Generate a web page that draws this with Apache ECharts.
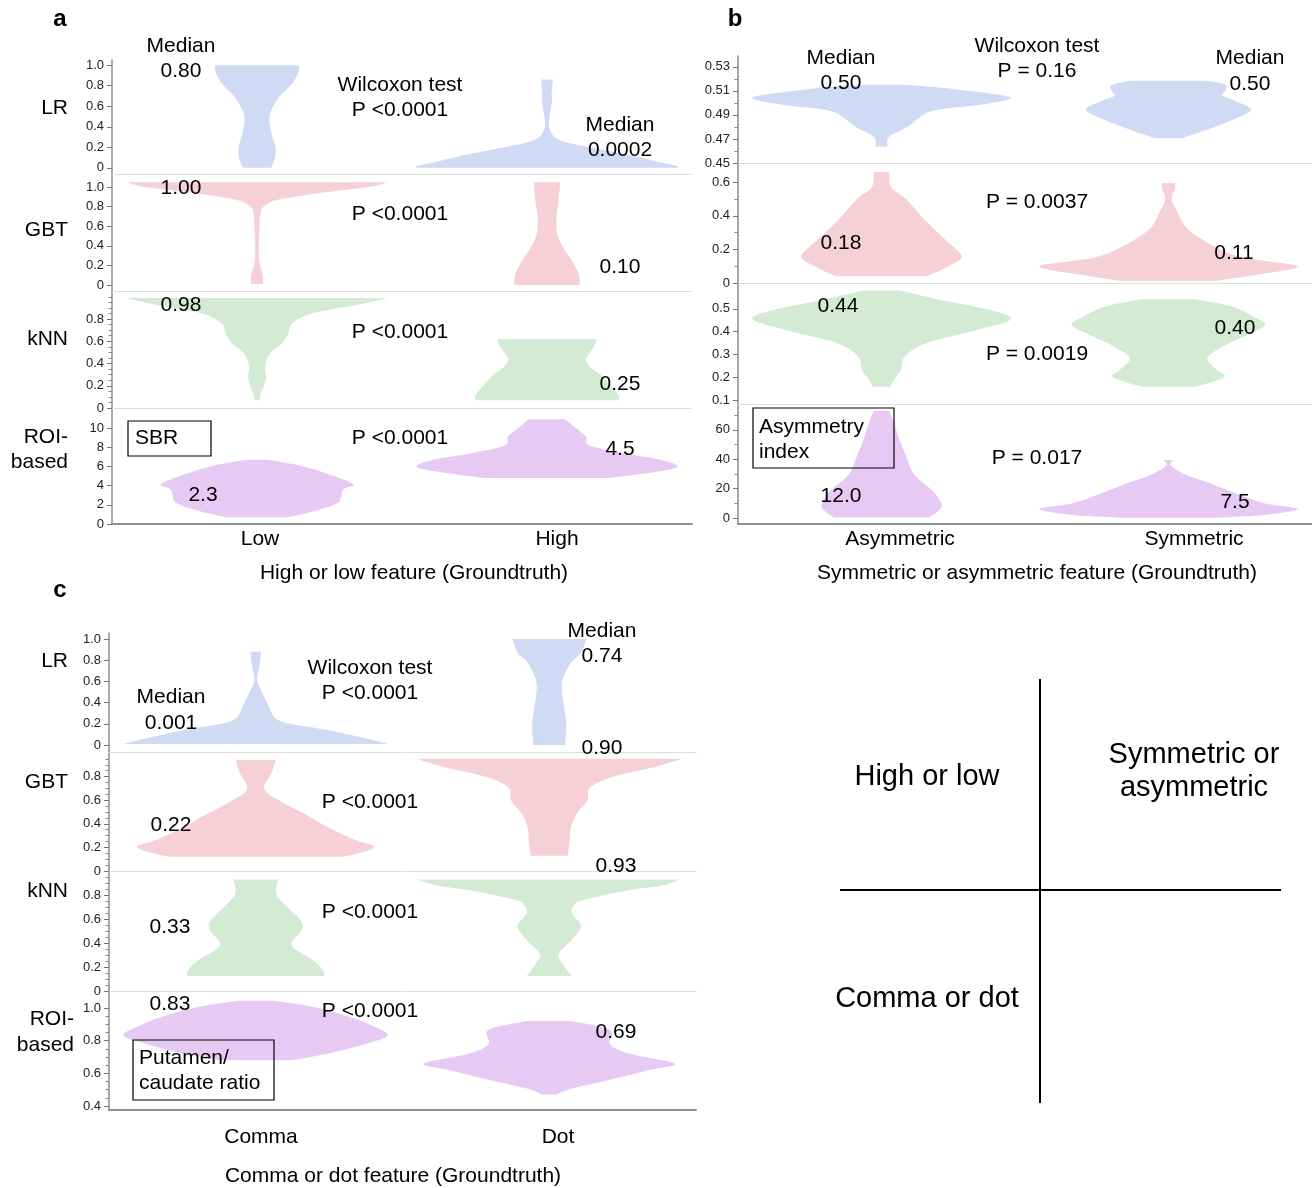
<!DOCTYPE html>
<html>
<head>
<meta charset="utf-8">
<script src="https://cdn.jsdelivr.net/npm/echarts@6/dist/echarts.min.js"></script>
<style>
  html, body { margin: 0; padding: 0; background: #fff; }
  #chart { width: 1312px; height: 1188px; }
</style>
</head>
<body>
<div id="chart"></div>
<script>
// ---------------- data ----------------
const groupsA = ['Low', 'High'];
const groupsB = ['Asymmetric', 'Symmetric'];
const groupsC = ['Comma', 'Dot'];
const modelNames = ['LR', 'GBT', 'kNN', 'ROI-based'];

// Violin outlines: [value, relative density] from the top of each violin down.
// Each array holds [first group, second group].
const violinA_LR = [
  [[1.0,0.32],[0.94,0.32],[0.82,0.27],[0.69,0.17],[0.56,0.11],[0.47,0.095],[0.34,0.11],[0.21,0.14],[0.11,0.14],[0,0.11]],
  [[0.86,0.045],[0.78,0.04],[0.72,0.035],[0.66,0.04],[0.56,0.028],[0.45,0.015],[0.38,0.02],[0.31,0.05],[0.26,0.12],[0.21,0.29],[0.13,0.61],[0.06,0.85],[0.02,0.99],[0,1.0]]
];
const violinA_GBT = [
  [[1.05,1.0],[1.0,0.85],[0.93,0.43],[0.87,0.16],[0.8,0.05],[0.72,0.025],[0.6,0.02],[0.45,0.014],[0.3,0.014],[0.22,0.02],[0.15,0.035],[0.07,0.046],[0.01,0.046]],
  [[1.05,0.1],[0.87,0.09],[0.7,0.073],[0.53,0.077],[0.39,0.12],[0.25,0.19],[0.15,0.23],[0.07,0.25],[0,0.25]]
];
const violinA_kNN = [
  [[0.99,1.0],[0.93,0.78],[0.85,0.42],[0.76,0.27],[0.67,0.24],[0.58,0.19],[0.49,0.1],[0.37,0.06],[0.28,0.07],[0.19,0.05],[0.12,0.026],[0.07,0.02]],
  [[0.62,0.38],[0.55,0.36],[0.47,0.31],[0.42,0.3],[0.36,0.34],[0.3,0.41],[0.25,0.45],[0.16,0.52],[0.11,0.55],[0.07,0.55]]
];
const violinA_ROI = [
  [[6.7,0.08],[6.0,0.36],[4.9,0.61],[4.1,0.74],[3.6,0.66],[2.2,0.62],[1.3,0.43],[0.7,0.24]],
  [[10.9,0.14],[10.1,0.21],[9.1,0.3],[8.2,0.32],[7.4,0.57],[6.7,0.87],[6.0,1.0],[5.45,0.84],[4.8,0.48]]
];

const violinB_LR = [
  [[0.515,0.19],[0.511,0.6],[0.5045,1.0],[0.498,0.74],[0.4955,0.52],[0.4915,0.35],[0.48,0.2],[0.472,0.06],[0.4635,0.046]],
  [[0.5185,0.3],[0.515,0.44],[0.51,0.44],[0.506,0.42],[0.5015,0.52],[0.4945,0.64],[0.487,0.52],[0.479,0.33],[0.4705,0.1]]
];
const violinB_GBT = [
  [[0.66,0.06],[0.57,0.075],[0.5,0.19],[0.38,0.33],[0.26,0.49],[0.16,0.62],[0.1,0.52],[0.04,0.35]],
  [[0.595,0.05],[0.56,0.05],[0.5,0.025],[0.42,0.07],[0.32,0.15],[0.22,0.35],[0.15,0.58],[0.1,1.0],[0.05,0.69],[0.014,0.38]]
];
const violinB_kNN = [
  [[0.58,0.14],[0.54,0.45],[0.495,0.84],[0.454,1.0],[0.407,0.74],[0.35,0.35],[0.29,0.18],[0.23,0.15],[0.195,0.105],[0.158,0.07]],
  [[0.542,0.21],[0.51,0.49],[0.465,0.66],[0.43,0.75],[0.39,0.63],[0.334,0.42],[0.283,0.3],[0.23,0.38],[0.2,0.43],[0.158,0.21]]
];
const violinB_ROI = [
  [[73,0.06],[64,0.1],[53,0.14],[42,0.19],[30,0.25],[19,0.39],[12,0.45],[6.6,0.46],[0.3,0.37]],
  [[39.5,0.04],[36,0.015],[30.5,0.11],[23.6,0.32],[16.8,0.52],[10,0.74],[6.1,1.0],[2,0.74],[0.2,0.38]]
];

const violinC_LR = [
  [[0.88,0.04],[0.8,0.035],[0.74,0.027],[0.61,0.011],[0.49,0.05],[0.36,0.1],[0.27,0.135],[0.22,0.2],[0.19,0.3],[0.15,0.5],[0.1,0.7],[0.05,0.88],[0.01,1.0]],
  [[1.0,0.28],[0.87,0.24],[0.77,0.16],[0.61,0.1],[0.46,0.1],[0.3,0.12],[0.17,0.13],[0,0.12]]
];
const violinC_GBT = [
  [[0.94,0.15],[0.83,0.12],[0.69,0.066],[0.57,0.22],[0.49,0.36],[0.375,0.54],[0.26,0.76],[0.205,0.9],[0.15,0.78],[0.12,0.65]],
  [[0.95,1.0],[0.88,0.8],[0.8,0.49],[0.71,0.31],[0.6,0.29],[0.49,0.21],[0.375,0.165],[0.26,0.155],[0.13,0.14]]
];
const violinC_kNN = [
  [[0.93,0.17],[0.81,0.155],[0.7,0.24],[0.59,0.34],[0.51,0.35],[0.4,0.27],[0.34,0.31],[0.26,0.43],[0.175,0.51],[0.125,0.52]],
  [[0.93,1.0],[0.88,0.85],[0.84,0.6],[0.77,0.3],[0.73,0.2],[0.65,0.17],[0.54,0.24],[0.425,0.17],[0.31,0.07],[0.23,0.1],[0.125,0.17]]
];
const violinC_ROI = [
  [[1.045,0.14],[1.008,0.43],[0.947,0.71],[0.885,0.9],[0.83,1.0],[0.78,0.83],[0.72,0.54],[0.68,0.27]],
  [[0.92,0.17],[0.865,0.46],[0.78,0.46],[0.72,0.61],[0.66,0.95],[0.62,0.76],[0.56,0.46],[0.5,0.14],[0.47,0.06]]
];

// Medians per row, [first group, second group]
const mediansA = [['0.80','0.0002'],['1.00','0.10'],['0.98','0.25'],['2.3','4.5']];
const mediansB = [['0.50','0.50'],['0.18','0.11'],['0.44','0.40'],['12.0','7.5']];
const mediansC = [['0.001','0.74'],['0.22','0.90'],['0.33','0.93'],['0.83','0.69']];

// Wilcoxon test results per row
const pValuesA = ['P <0.0001','P <0.0001','P <0.0001','P <0.0001'];
const pValuesB = ['P = 0.16','P = 0.0037','P = 0.0019','P = 0.017'];
const pValuesC = ['P <0.0001','P <0.0001','P <0.0001','P <0.0001'];

// Tick labels per row
const ticksA = [[0,0.2,0.4,0.6,0.8,1.0],[0,0.2,0.4,0.6,0.8,1.0],[0,0.2,0.4,0.6,0.8],[0,2,4,6,8,10]];
const ticksB = [[0.45,0.47,0.49,0.51,0.53],[0,0.2,0.4,0.6],[0.1,0.2,0.3,0.4,0.5],[0,20,40,60]];
const ticksC = [[0,0.2,0.4,0.6,0.8,1.0],[0,0.2,0.4,0.6,0.8],[0,0.2,0.4,0.6,0.8],[0.4,0.6,0.8,1.0]];
const minorTicksA = [[],[],[0.05,0.1,0.15,0.25,0.3,0.35,0.45,0.5,0.55,0.65,0.7,0.75,0.85,0.9,0.95,1.0],[]];
const minorTicksB = [[0.46,0.48,0.50,0.52,0.54],[0.1,0.3,0.5],[],[10,30,50,70]];
const minorTicksC = [[],
  [0.05,0.1,0.15,0.25,0.3,0.35,0.45,0.5,0.55,0.65,0.7,0.75,0.85,0.9,0.95],
  [0.05,0.1,0.15,0.25,0.3,0.35,0.45,0.5,0.55,0.65,0.7,0.75,0.85,0.9,0.95],
  [0.45,0.5,0.55,0.65,0.7,0.75,0.85,0.9,0.95]];

const axisTitles = ['High or low feature (Groundtruth)', 'Symmetric or asymmetric feature (Groundtruth)', 'Comma or dot feature (Groundtruth)'];
const measureBoxes = [['SBR'], ['Asymmetry', 'index'], ['Putamen/', 'caudate ratio']];
const quadrantLabels = [['High or low'], ['Symmetric or', 'asymmetric'], ['Comma or dot']];

// ---------------- layout ----------------
const modelColors = ['#cfdbf5', '#f5d0d6', '#d3ead3', '#e7caf4'];
const FONT = '"Liberation Sans", Arial, Helvetica, sans-serif';
const HALF = 0.45;   // half-width of a density-1 violin, in category units

const panels = [
  { left: 112, width: 580,
    rows: [[60,174],[174,291],[291,408],[408,524]],
    ranges: [[-0.06,1.05],[-0.061,1.133],[0,1.052],[0,12.08]],
    decimals: [1,1,1,0],
    ticks: ticksA, minor: minorTicksA,
    violins: [violinA_LR, violinA_GBT, violinA_kNN, violinA_ROI] },
  { left: 738, width: 574,
    rows: [[56,163],[163,283],[283,404],[404,524]],
    ranges: [[0.45,0.539],[0,0.714],[0.0825,0.613],[-4.08,77.55]],
    decimals: [2,1,1,0],
    ticks: ticksB, minor: minorTicksB,
    violins: [violinB_LR, violinB_GBT, violinB_kNN, violinB_ROI] },
  { left: 109, width: 587,
    rows: [[633,752],[752,871],[871,991],[991,1110]],
    ranges: [[-0.066,1.057],[0,1.008],[0,1.0],[0.3755,1.104]],
    decimals: [1,1,1,1],
    ticks: ticksC, minor: minorTicksC,
    violins: [violinC_LR, violinC_GBT, violinC_kNN, violinC_ROI] }
];

// smooth edge through every outline point (Catmull-Rom as cubic Bezier), caps stay straight
function edgePath(pts, start) {
  const f = (n) => n.toFixed(2);
  let d = (start ? 'M' : 'L') + f(pts[0][0]) + ' ' + f(pts[0][1]);
  for (let i = 0; i < pts.length - 1; i++) {
    const p0 = pts[Math.max(i - 1, 0)], p1 = pts[i], p2 = pts[i + 1], p3 = pts[Math.min(i + 2, pts.length - 1)];
    const c1 = [p1[0] + (p2[0] - p0[0]) / 6, p1[1] + (p2[1] - p0[1]) / 6];
    const c2 = [p2[0] - (p3[0] - p1[0]) / 6, p2[1] - (p3[1] - p1[1]) / 6];
    d += ' C' + f(c1[0]) + ' ' + f(c1[1]) + ' ' + f(c2[0]) + ' ' + f(c2[1]) + ' ' + f(p2[0]) + ' ' + f(p2[1]);
  }
  return d;
}

const grids = [], xAxes = [], yAxes = [], series = [];
panels.forEach((p) => {
  p.rows.forEach((r, ri) => {
    const g = grids.length;
    const isLast = ri === p.rows.length - 1;
    grids.push({ left: p.left, top: r[0], width: p.width, height: r[1] - r[0], containLabel: false });
    xAxes.push({
      gridIndex: g, type: 'value', min: -0.5, max: 1.5,
      axisLine: { show: true, onZero: false, lineStyle: { color: isLast ? '#909090' : '#dedede', width: isLast ? 2 : 1 } },
      axisTick: { show: false }, axisLabel: { show: false }, splitLine: { show: false }
    });
    const dec = p.decimals[ri];
    const yMain = yAxes.length;
    yAxes.push({
      gridIndex: g, type: 'value', position: 'left', min: p.ranges[ri][0], max: p.ranges[ri][1],
      axisLine: { show: true, onZero: false, lineStyle: { color: '#8c8c8c', width: 1.5 } },
      axisTick: { show: true, length: 5, customValues: p.ticks[ri], lineStyle: { color: '#777', width: 1 } },
      axisLabel: {
        show: true, customValues: p.ticks[ri], margin: 8,
        fontFamily: FONT, fontSize: 13, color: '#222',
        formatter: (v) => (Math.abs(v) < 1e-9 ? '0' : Number(v).toFixed(dec))
      },
      splitLine: { show: false }
    });
    yAxes.push({
      gridIndex: g, type: 'value', position: 'left', offset: 0, min: p.ranges[ri][0], max: p.ranges[ri][1],
      axisLine: { show: false, onZero: false },
      axisTick: { show: p.minor[ri].length > 0, length: 3.5, customValues: p.minor[ri].length ? p.minor[ri] : [p.ranges[ri][0]], lineStyle: { color: '#888', width: 1 } },
      axisLabel: { show: false }, splitLine: { show: false }
    });
    const outlines = p.violins[ri];
    const color = modelColors[ri];
    series.push({
      type: 'custom', xAxisIndex: g, yAxisIndex: yMain, silent: true, z: 2,
      data: outlines.map((o, i) => [i, o[0][0]]),
      renderItem: (params, api) => {
        const c = api.value(0);
        const o = outlines[params.dataIndex];
        const right = o.map(([v, d]) => api.coord([c + d * HALF, v]));
        const left = o.map(([v, d]) => api.coord([c - d * HALF, v])).reverse();
        const path = edgePath(right, true) + ' ' + edgePath(left, false) + ' Z';
        return { type: 'path', shape: { pathData: path }, style: { fill: color, stroke: null } };
      }
    });
  });
});

// ---------------- text ----------------
const graphics = [];
function txt(t, x, y, opt) {
  opt = opt || {};
  graphics.push({
    type: 'text', x: x, y: y, z: 10, silent: true,
    style: {
      text: t, fill: opt.color || '#000',
      font: (opt.weight || 'normal') + ' ' + (opt.size || 21) + 'px ' + FONT,
      align: opt.align || 'center', verticalAlign: 'middle'
    }
  });
}
function box(x, y, w, h) {
  graphics.push({ type: 'rect', z: 9, silent: true, shape: { x: x, y: y, width: w, height: h },
    style: { fill: null, stroke: '#000', lineWidth: 1.2 } });
}
function line(x1, y1, x2, y2) {
  graphics.push({ type: 'line', z: 9, silent: true, shape: { x1: x1, y1: y1, x2: x2, y2: y2 },
    style: { stroke: '#000', lineWidth: 2 } });
}

// panel letters
txt('a', 60, 19, { weight: 'bold', size: 24 });
txt('b', 735, 19, { weight: 'bold', size: 24 });
txt('c', 60, 590, { weight: 'bold', size: 24 });

// model names on the left of panels a and c
[[108, 230, 339], [661, 782, 891]].forEach((ys) => {
  txt(modelNames[0], 68, ys[0], { align: 'right' });
  txt(modelNames[1], 68, ys[1], { align: 'right' });
  txt(modelNames[2], 68, ys[2], { align: 'right' });
});
const roiParts = modelNames[3].split('-');
txt(roiParts[0] + '-', 68, 437, { align: 'right' });
txt(roiParts[1], 68, 462, { align: 'right' });
txt(roiParts[0] + '-', 74, 1019, { align: 'right' });
txt(roiParts[1], 74, 1045, { align: 'right' });

// medians and test results
const medianPos = [
  [[[181,71],[620,150]], [[181,188],[620,267]], [[181,305],[620,384]], [[203,495],[620,449]]],
  [[[841,83],[1250,84]], [[841,243],[1234,253]], [[838,306],[1235,328]], [[841,496],[1235,502]]],
  [[[171,723],[602,656]], [[171,825],[602,748]], [[170,927],[616,866]], [[170,1004],[616,1032]]]
];
const pPos = [
  [[400,110],[400,214],[400,332],[400,438]],
  [[1037,71],[1037,202],[1037,354],[1037,458]],
  [[370,693],[370,802],[370,912],[370,1011]]
];
const headerPos = [
  { med: [[181,46],[620,125]], test: [400,85] },
  { med: [[841,58],[1250,58]], test: [1037,46] },
  { med: [[171,697],[602,631]], test: [370,668] }
];
[mediansA, mediansB, mediansC].forEach((meds, pi) => {
  meds.forEach((pair, ri) => {
    txt(pair[0], medianPos[pi][ri][0][0], medianPos[pi][ri][0][1]);
    txt(pair[1], medianPos[pi][ri][1][0], medianPos[pi][ri][1][1]);
  });
  headerPos[pi].med.forEach((m) => txt('Median', m[0], m[1]));
  txt('Wilcoxon test', headerPos[pi].test[0], headerPos[pi].test[1]);
});
[pValuesA, pValuesB, pValuesC].forEach((ps, pi) => {
  ps.forEach((t, ri) => txt(t, pPos[pi][ri][0], pPos[pi][ri][1]));
});

// measure boxes in the ROI rows
box(128, 421, 83, 35);
txt(measureBoxes[0][0], 135, 438, { align: 'left' });
box(753, 408, 141, 60);
txt(measureBoxes[1][0], 759, 427, { align: 'left' });
txt(measureBoxes[1][1], 759, 452, { align: 'left' });
box(133, 1040, 141, 60);
txt(measureBoxes[2][0], 139, 1058, { align: 'left' });
txt(measureBoxes[2][1], 139, 1083, { align: 'left' });

// group labels and axis titles
txt(groupsA[0], 260, 539); txt(groupsA[1], 557, 539);
txt(groupsB[0], 900, 539); txt(groupsB[1], 1194, 539);
txt(groupsC[0], 261, 1137); txt(groupsC[1], 558, 1137);
txt(axisTitles[0], 414, 573);
txt(axisTitles[1], 1037, 573);
txt(axisTitles[2], 393, 1176);

// quadrant key
line(1040, 679, 1040, 1103);
line(840, 890, 1281, 890);
txt(quadrantLabels[0][0], 927, 777, { size: 29 });
txt(quadrantLabels[1][0], 1194, 755, { size: 29 });
txt(quadrantLabels[1][1], 1194, 788, { size: 29 });
txt(quadrantLabels[2][0], 927, 999, { size: 29 });

const chart = echarts.init(document.getElementById('chart'), null, { renderer: 'canvas' });
chart.setOption({
  animation: false,
  backgroundColor: '#fff',
  grid: grids,
  xAxis: xAxes,
  yAxis: yAxes,
  series: series,
  graphic: { elements: graphics }
});
</script>
</body>
</html>
